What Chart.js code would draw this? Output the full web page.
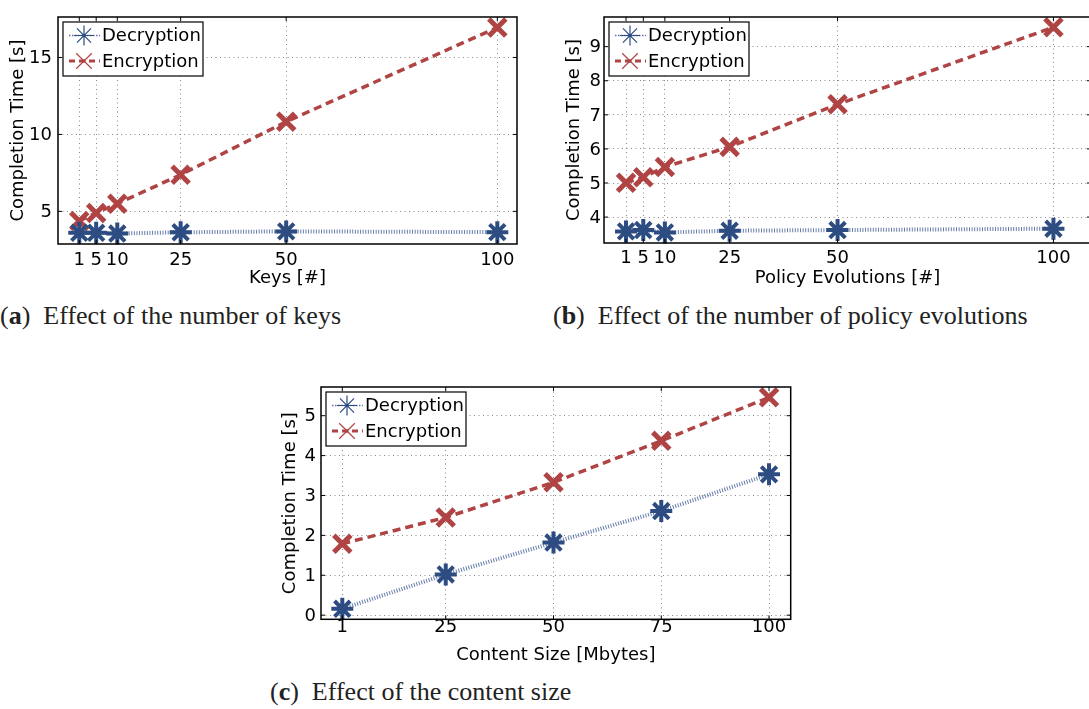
<!DOCTYPE html>
<html>
<head>
<meta charset="utf-8">
<script src="https://cdn.jsdelivr.net/npm/chart.js@4.4.1/dist/chart.umd.min.js"></script>
<style>
  html, body { margin: 0; padding: 0; background: #fff; overflow: hidden; width: 1089px; height: 709px; }
  canvas { position: absolute; }
  .cap { position: absolute; font-family: 'Liberation Serif', 'Times New Roman', serif; font-size: 25px; line-height: 1; color: #222; white-space: nowrap; transform: scaleX(1.04); transform-origin: left top; }
</style>
</head>
<body>
<canvas id="chartA" width="540" height="290" style="left:0;top:0"></canvas>
<canvas id="chartB" width="560" height="290" style="left:550px;top:0"></canvas>
<canvas id="chartC" width="540" height="300" style="left:270px;top:370px"></canvas>
<div class="cap" style="left:0px;top:303px">(<b>a</b>)&nbsp; Effect of the number of keys</div>
<div class="cap" style="left:553px;top:303px">(<b>b</b>)&nbsp; Effect of the number of policy evolutions</div>
<div class="cap" style="left:270px;top:679px">(<b>c</b>)&nbsp; Effect of the content size</div>
<script>
// values
const keysX = [1, 5, 10, 25, 50, 100];
const keysDec = [3.61, 3.61, 3.56, 3.64, 3.70, 3.65];
const keysEnc = [4.38, 4.90, 5.50, 7.38, 10.83, 16.95];

const policyX = [1, 5, 10, 25, 50, 100];
const policyDec = [3.58, 3.62, 3.55, 3.60, 3.62, 3.66];
const policyEnc = [5.01, 5.17, 5.47, 6.06, 7.31, 9.57];

const sizeX = [1, 25, 50, 75, 100];
const sizeDec = [0.16, 1.02, 1.82, 2.61, 3.53];
const sizeEnc = [1.79, 2.45, 3.33, 4.37, 5.46];

const yTicksA = [5, 10, 15];
const yTicksB = [4, 5, 6, 7, 8, 9];
const yTicksC = [0, 1, 2, 3, 4, 5];

const BLUE = '#2c4c82';
const RED = '#b04444';

Chart.defaults.font.family = "'DejaVu Sans', sans-serif";
Chart.defaults.font.size = 18;
Chart.defaults.color = '#000';

function pts(xs, ys) {
  return xs.map((x, i) => ({ x: x, y: ys[i] }));
}

function drawMarker(ctx, style, x, y, r) {
  const angles = style === 'star' ? [0, Math.PI / 4, Math.PI / 2, 3 * Math.PI / 4] : [Math.PI / 4, 3 * Math.PI / 4];
  ctx.beginPath();
  angles.forEach(a => {
    const dx = Math.cos(a) * r, dy = Math.sin(a) * r;
    ctx.moveTo(x - dx, y - dy);
    ctx.lineTo(x + dx, y + dy);
  });
  ctx.stroke();
}

// frame, inward ticks and legend box inside the plot
const framePlugin = {
  id: 'frame',
  afterDraw(chart) {
    const { ctx, chartArea: a, scales } = chart;
    ctx.save();
    ctx.strokeStyle = '#000';
    ctx.lineWidth = 1;
    ctx.setLineDash([]);
    scales.x.ticks.forEach(t => {
      const px = scales.x.getPixelForValue(t.value);
      ctx.beginPath();
      ctx.moveTo(px, a.bottom); ctx.lineTo(px, a.bottom - 4);
      ctx.moveTo(px, a.top); ctx.lineTo(px, a.top + 4);
      ctx.stroke();
    });
    scales.y.ticks.forEach(t => {
      const py = scales.y.getPixelForValue(t.value);
      ctx.beginPath();
      ctx.moveTo(a.left, py); ctx.lineTo(a.left + 4, py);
      ctx.moveTo(a.right, py); ctx.lineTo(a.right - 4, py);
      ctx.stroke();
    });
    ctx.lineWidth = 1.5;
    ctx.strokeRect(a.left, a.top, a.right - a.left, a.bottom - a.top);

    // legend
    const bx = a.left + 5, by = a.top + 5, bw = 140, bh = 54;
    ctx.fillStyle = '#fff';
    ctx.fillRect(bx, by, bw, bh);
    ctx.lineWidth = 1.2;
    ctx.strokeRect(bx, by, bw, bh);
    chart.data.datasets.forEach((ds, i) => {
      const cy = by + 13.5 + i * 25.5;
      ctx.strokeStyle = ds.legendColor;
      ctx.lineWidth = ds.legendWidth;
      ctx.setLineDash(ds.legendDash);
      ctx.beginPath();
      ctx.moveTo(bx + 6, cy); ctx.lineTo(bx + 37, cy);
      ctx.stroke();
      ctx.setLineDash([]);
      ctx.strokeStyle = ds.pointBorderColor;
      ctx.lineWidth = 1.2;
      drawMarker(ctx, ds.pointStyle, bx + 21, cy, ds.pointStyle === 'star' ? 10 : 11);
      ctx.fillStyle = ds.pointBorderColor;
      ctx.fillRect(bx + 19.5, cy - 1.5, 3, 3);
      ctx.fillStyle = '#000';
      ctx.font = "18px 'DejaVu Sans', sans-serif";
      ctx.textBaseline = 'middle';
      ctx.textAlign = 'left';
      ctx.fillText(ds.label, bx + 39, cy + 1);
    });
    ctx.restore();
  }
};

function makeChart(id, g, xs, dec, enc, xTicks, yTicks, xTitle) {
  const canvas = document.getElementById(id);
  const W = canvas.width, H = canvas.height;
  new Chart(canvas, {
    type: 'line',
    data: {
      datasets: [
        {
          label: 'Decryption',
          data: pts(xs, dec),
          borderColor: 'rgba(50, 80, 140, 0.75)',
          borderWidth: 4,
          borderDash: [1, 1.6],
          pointStyle: 'star',
          pointRadius: 11,
          pointBorderWidth: 4,
          pointBorderColor: BLUE,
          pointBackgroundColor: BLUE,
          legendColor: 'rgba(50, 80, 140, 0.8)',
          legendWidth: 1.5,
          legendDash: [1.5, 1.5],
          clip: false
        },
        {
          label: 'Encryption',
          data: pts(xs, enc),
          borderColor: RED,
          borderWidth: 3.5,
          borderDash: [8, 5],
          pointStyle: 'crossRot',
          pointRadius: 12,
          pointBorderWidth: 5,
          pointBorderColor: RED,
          pointBackgroundColor: RED,
          legendColor: RED,
          legendWidth: 3,
          legendDash: [6, 4],
          clip: false
        }
      ]
    },
    options: {
      responsive: false,
      animation: false,
      events: [],
      layout: { padding: { left: 0, top: g.top, right: W - g.right, bottom: 0 } },
      plugins: { legend: { display: false }, tooltip: { enabled: false } },
      scales: {
        x: {
          type: 'linear',
          min: g.xMin,
          max: g.xMax,
          afterBuildTicks: s => { s.ticks = xTicks.map(v => ({ value: v })); },
          afterFit: s => { s.height = H - g.bottom; s.paddingLeft = 0; s.paddingRight = 0; },
          ticks: { autoSkip: false, maxRotation: 0, minRotation: 0, padding: g.xTickPad },
          grid: { color: '#888', lineWidth: 1, drawTicks: false },
          border: { display: false, dash: [1, 3.5] },
          title: { display: true, text: xTitle, padding: { top: 0, bottom: g.xTitlePad } }
        },
        y: {
          type: 'linear',
          min: g.yMin,
          max: g.yMax,
          afterBuildTicks: s => { s.ticks = yTicks.map(v => ({ value: v })); },
          afterFit: s => { s.width = g.left; s.paddingTop = 0; s.paddingBottom = 0; },
          ticks: { padding: g.yTickPad, labelOffset: 1 },
          grid: { color: '#888', lineWidth: 1, drawTicks: false },
          border: { display: false, dash: [1, 3.5] },
          title: { display: true, text: 'Completion Time [s]', padding: { top: g.yTitlePad, bottom: 0 } }
        }
      }
    },
    plugins: [framePlugin]
  });
}

makeChart('chartA',
  { left: 58, top: 7, right: 517, bottom: 244, xMin: -4.04, xMax: 104.66, yMin: 2.88, yMax: 17.63,
    xTickPad: 5.2, xTitlePad: 1.2, yTickPad: 6, yTitlePad: 8 },
  keysX, keysDec, keysEnc, keysX, yTicksA, 'Keys [#]');

makeChart('chartB',
  { left: 54, top: 1, right: 541, bottom: 243, xMin: -4.1, xMax: 108.7, yMin: 3.24, yMax: 9.87,
    xTickPad: 4.2, xTitlePad: 1.2, yTickPad: 3, yTitlePad: 14 },
  policyX, policyDec, policyEnc, policyX, yTicksB, 'Policy Evolutions [#]');

makeChart('chartC',
  { left: 51, top: 7.3, right: 520.7, bottom: 249.3, xMin: -3.94, xMax: 105.03, yMin: -0.104, yMax: 5.72,
    xTickPad: -2.6, xTitlePad: 4.2, yTickPad: 5, yTitlePad: 10 },
  sizeX, sizeDec, sizeEnc, sizeX, yTicksC, 'Content Size [Mbytes]');
</script>
</body>
</html>
